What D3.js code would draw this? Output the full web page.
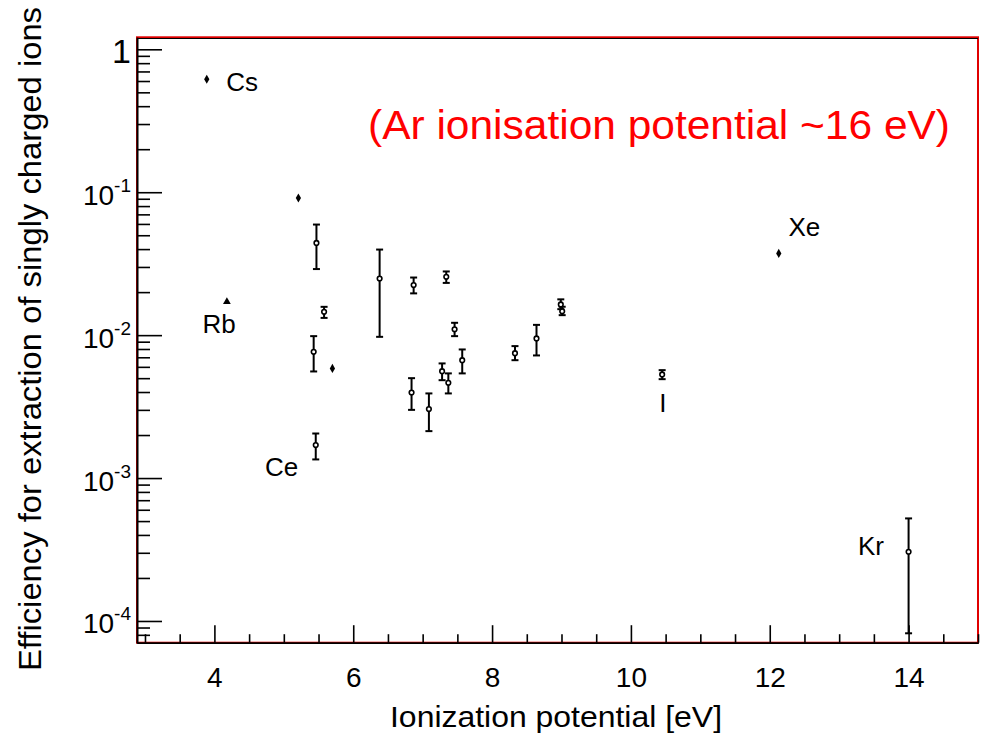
<!DOCTYPE html>
<html><head><meta charset="utf-8">
<script src="https://cdn.jsdelivr.net/npm/d3@7/dist/d3.min.js"></script>
<style>
body{margin:0;background:#fff}
svg{display:block}
text{font-family:"Liberation Sans",Arial,Helvetica,sans-serif;fill:#000}
</style>
</head><body>
<svg id="chart" width="982" height="738"></svg>
<script>
// ---- data ----
const ionizationPotential = [3.89, 4.18, 5.21, 5.47, 5.58, 5.43, 5.70, 5.46, 6.38, 6.87, 7.34, 7.46, 7.57, 7.28, 7.37, 6.84, 7.09, 8.33, 8.64, 8.99, 9.01, 10.45, 12.13, 14.0];
const efficiency        = [0.617, 0.0171, 0.0912, 0.0442, 0.01455, 0.00764, 0.00585, 0.0017, 0.0249, 0.0224, 0.0256, 0.0110, 0.00668, 0.0056, 0.00464, 0.00397, 0.00304, 0.00748, 0.00948, 0.0164, 0.0147, 0.00531, 0.0373, 0.000305];
const errorLow          = [null, null, null, 0.0290, 0.0132, 0.00557, null, 0.00135, 0.00973, 0.0196, 0.0232, 0.00984, 0.0054, 0.00484, 0.00391, 0.0030, 0.00213, 0.00668, 0.00721, 0.0152, 0.0138, 0.00492, null, 0.000082];
const errorHigh         = [null, null, null, 0.0594, 0.01578, 0.00984, null, 0.00205, 0.0397, 0.0253, 0.0279, 0.0122, 0.00794, 0.00634, 0.0054, 0.0050, 0.00391, 0.00838, 0.0118, 0.0178, 0.0158, 0.00569, null, 0.000522];
const markerType        = ["diamond", "triangle", "diamond", "circle", "circle", "circle", "diamond", "circle", "circle", "circle", "circle", "circle", "circle", "circle", "circle", "circle", "circle", "circle", "circle", "circle", "circle", "circle", "diamond", "circle"];

const elementLabels = ["Cs", "Rb", "Ce", "Xe", "Kr", "I"];
const labelIP       = [4.17, 3.83, 4.73, 12.27, 13.27, 10.41];
const labelEff      = [0.508, 0.01041, 0.001032, 0.0492, 0.00029, 0.00291];

const xMajorTicks = [4, 6, 8, 10, 12, 14];
const yMajorTicks = [1, 0.1, 0.01, 0.001, 0.0001];
const yTickExponents = ["", "-1", "-2", "-3", "-4"];

const xTitle = "Ionization potential [eV]";
const yTitle = "Efficiency for extraction of singly charged ions";
const note = "(Ar ionisation potential ~16 eV)";

// ---- layout ----
const svg = d3.select("#chart");
const L = 137, R = 978, T = 37.3, B = 642.7;

const x = d3.scaleLinear().domain([2.885, 15]).range([L, R]);
const y = d3.scaleLog().domain([Math.pow(10, -4.152), Math.pow(10, 0.084)]).range([B, T]);

// minor ticks
const xMinor = d3.range(3, 15.01, 0.5).filter(v => !xMajorTicks.includes(v));
const yMinor = [];
[-5, -4, -3, -2, -1].forEach(e => { for (let m = 2; m <= 9; m++) { const v = m * Math.pow(10, e); if (v >= y.domain()[0] && v <= y.domain()[1]) yMinor.push(v); } });

// frame
svg.append("rect").attr("x", L).attr("y", T).attr("width", R - L).attr("height", B - T)
  .attr("fill", "none").attr("stroke", "#e00000").attr("stroke-width", 2);
svg.append("line").attr("x1", L).attr("x2", R).attr("y1", T + 1.2).attr("y2", T + 1.2)
  .attr("stroke", "#000").attr("stroke-width", 1);

// axes
const gx = svg.append("g").attr("transform", `translate(0,${B})`);
gx.call(d3.axisBottom(x).tickValues(xMinor).tickSizeInner(-8.5).tickSizeOuter(0).tickFormat(""));
const gx2 = svg.append("g").attr("transform", `translate(0,${B})`);
gx2.call(d3.axisBottom(x).tickValues(xMajorTicks).tickSizeInner(-17.5).tickSizeOuter(0).tickPadding(30).tickFormat(d3.format("d")));
gx2.selectAll("text").style("font-size", "28px").attr("dy", "0.5em");

const gy = svg.append("g").attr("transform", `translate(${L},0)`);
gy.call(d3.axisLeft(y).tickValues(yMinor).tickSizeInner(-13).tickSizeOuter(0).tickFormat(""));
const gy2 = svg.append("g").attr("transform", `translate(${L},0)`);
gy2.call(d3.axisLeft(y).tickValues(yMajorTicks).tickSizeInner(-25).tickSizeOuter(0).tickPadding(6).tickFormat(""));
[gx, gx2, gy, gy2].forEach(g => {
  g.select(".domain").attr("stroke", "#000").attr("stroke-width", 1.6);
  g.selectAll(".tick line").attr("stroke", "#000").attr("stroke-width", 1.6);
});
gy2.selectAll(".tick").each(function(d, i) {
  const t = d3.select(this).select("text").attr("dy", null).attr("y", i === 0 ? 13 : 12).style("font-size", i === 0 ? "34px" : "28px");
  if (i === 0) { t.text("1"); }
  else {
    t.append("tspan").text("10");
    t.append("tspan").attr("dy", -13).style("font-size", "19px").text(yTickExponents[i]);
  }
});

// error bars
const idx = d3.range(ionizationPotential.length);
const eb = svg.append("g").attr("stroke", "#000").attr("stroke-width", 2).attr("fill", "none");
idx.filter(i => errorLow[i] !== null).forEach(i => {
  const cx = x(ionizationPotential[i]), y1 = y(errorHigh[i]), y0 = y(errorLow[i]);
  eb.append("line").attr("x1", cx).attr("x2", cx).attr("y1", y1).attr("y2", y0);
  eb.append("line").attr("x1", cx - 3.5).attr("x2", cx + 3.5).attr("y1", y1).attr("y2", y1);
  eb.append("line").attr("x1", cx - 3.5).attr("x2", cx + 3.5).attr("y1", y0).attr("y2", y0);
});

// markers
const sym = { diamond: d3.symbolDiamond, triangle: d3.symbolTriangle };
idx.forEach(i => {
  const cx = x(ionizationPotential[i]), cy = y(efficiency[i]);
  if (markerType[i] === "circle") {
    svg.append("circle").attr("cx", cx).attr("cy", cy).attr("r", 2.3)
      .attr("fill", "#fff").attr("stroke", "#000").attr("stroke-width", 1.6);
  } else {
    svg.append("path").attr("transform", `translate(${cx},${cy})`)
      .attr("d", d3.symbol().type(sym[markerType[i]]).size(markerType[i] === "triangle" ? 26 : 24)())
      .attr("fill", "#000");
  }
});

// element labels
elementLabels.forEach((lab, i) => {
  svg.append("text").attr("x", x(labelIP[i])).attr("y", y(labelEff[i]))
    .style("font-size", "26px").text(lab);
});

// note
svg.append("text").attr("x", 368).attr("y", 139).style("font-size", "41px")
  .attr("textLength", 582).attr("lengthAdjust", "spacingAndGlyphs")
  .style("fill", "#ff0000").text(note);

// axis titles
svg.append("text").attr("x", 556).attr("y", 727).attr("text-anchor", "middle")
  .style("font-size", "29px").attr("textLength", 332).attr("lengthAdjust", "spacingAndGlyphs").text(xTitle);
svg.append("text").attr("transform", "translate(41,339) rotate(-90)").attr("text-anchor", "middle")
  .style("font-size", "31px").attr("textLength", 664).attr("lengthAdjust", "spacingAndGlyphs").text(yTitle);
</script>
</body></html>
